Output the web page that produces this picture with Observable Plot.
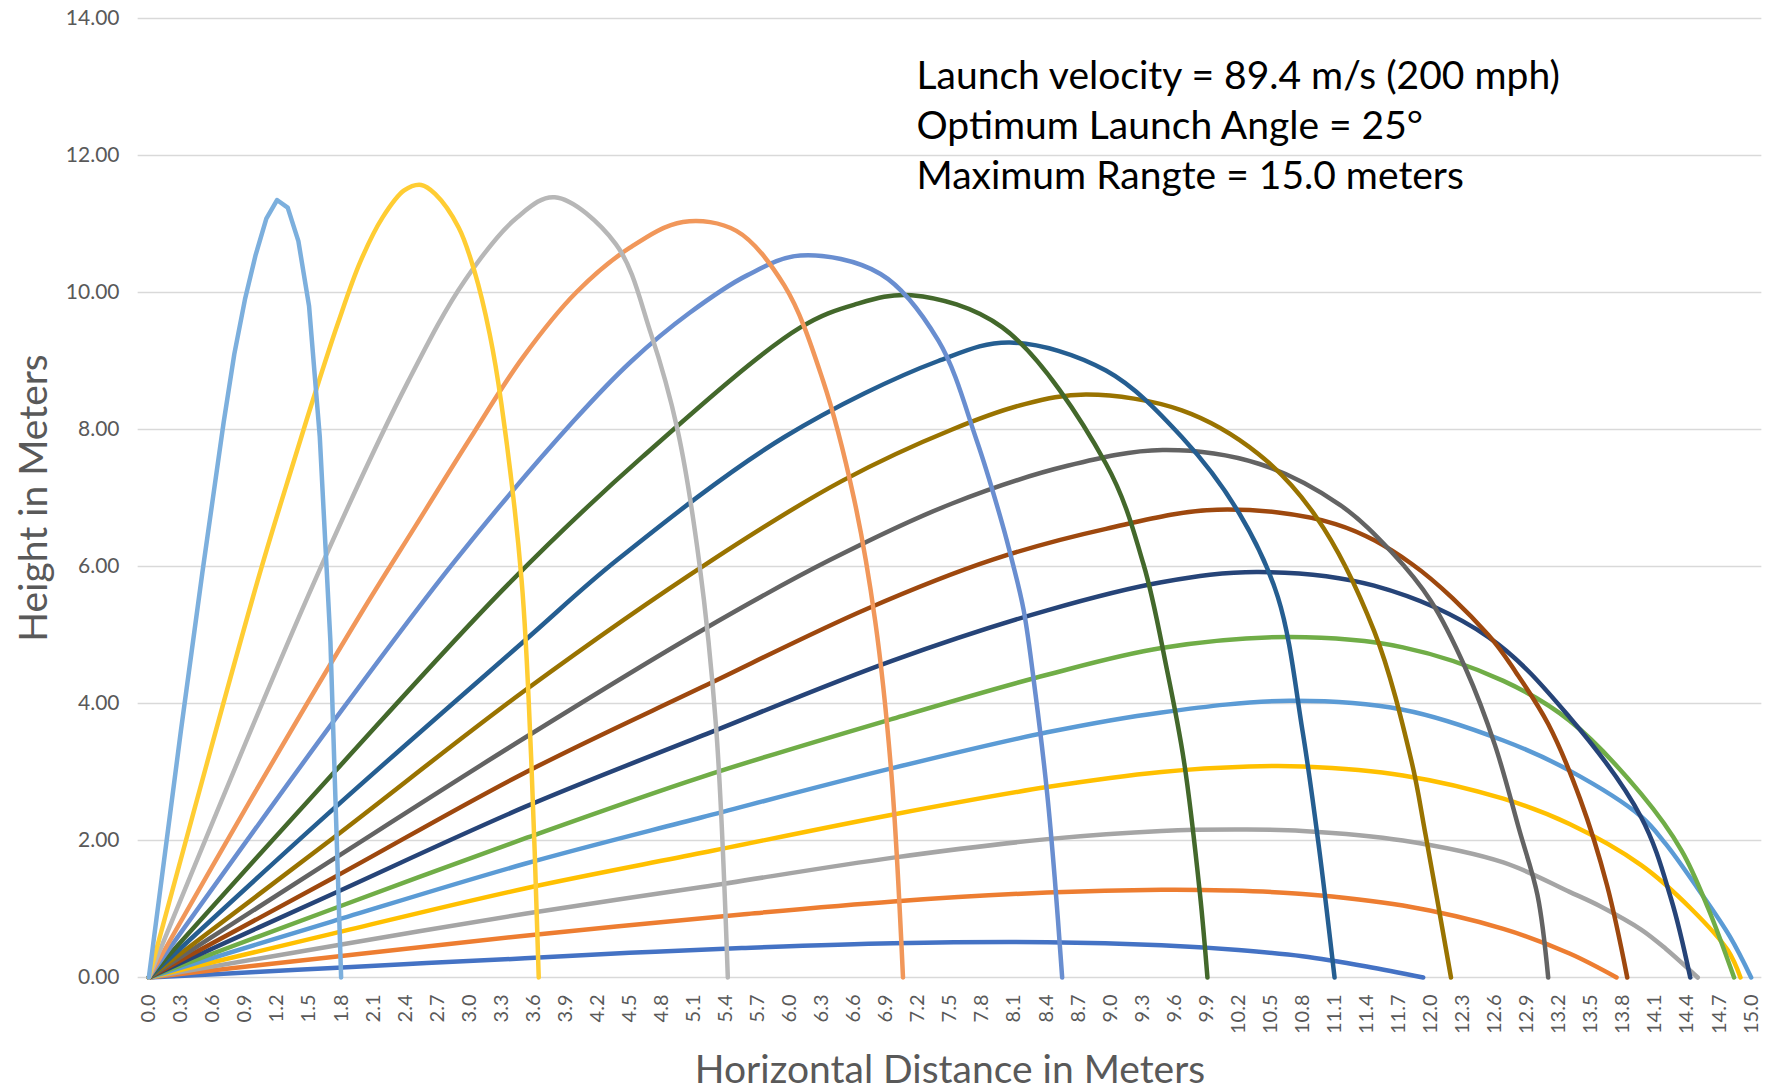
<!DOCTYPE html>
<html>
<head>
<meta charset="utf-8">
<script src="https://cdn.jsdelivr.net/npm/d3@7"></script>
<script src="https://cdn.jsdelivr.net/npm/@observablehq/plot@0.6"></script>
<style>
  html, body { margin: 0; padding: 0; background: #ffffff; }
  #chart svg { display: block; }
</style>
</head>
<body>
<div id="chart"></div>
<script>
// ---- Data ----
const angles = [5, 10, 15, 20, 25, 30, 35, 40, 45, 50, 55, 60, 65, 70, 75, 80, 85];
const palette = ["#4472C4", "#ED7D31", "#A5A5A5", "#FFC000", "#5B9BD5", "#70AD47", "#264478", "#9E480E",
                 "#636363", "#997300", "#255E91", "#43682B", "#698ED0", "#F1975A", "#B7B7B7", "#FFCD33", "#7CAFDD"];

// [horizontal distance (m), height (m)]
const deg05 = [[0,0],[1.0,0.08],[1.72,0.14],[2.6,0.21],[3.52,0.28],[4.5,0.36],[5.55,0.43],[6.97,0.5],[8.41,0.515],[9.48,0.47],[10.2,0.4],[10.8,0.31],[11.4,0.16],[11.93,0]];
const deg10 = [[0,0],[1.72,0.3],[3.52,0.61],[5.55,0.92],[6.97,1.11],[8.41,1.24],[9.48,1.28],[10.1,1.27],[10.8,1.22],[11.74,1.05],[12.68,0.71],[13.3,0.35],[13.74,0]];
const deg15 = [[0,0],[1.72,0.46],[3.52,0.93],[5.18,1.32],[6.97,1.75],[8.41,2.02],[9.48,2.14],[10.25,2.16],[10.8,2.14],[11.74,2.0],[12.68,1.68],[13.3,1.25],[13.6,1.03],[13.97,0.7],[14.2,0.42],[14.5,0]];
const deg20 = [[0,0],[1.72,0.64],[3.52,1.3],[5.18,1.82],[6.97,2.38],[8.41,2.78],[9.48,3.0],[10.3,3.08],[10.8,3.08],[11.74,2.95],[12.68,2.61],[13.3,2.24],[13.97,1.64],[14.44,1.0],[14.78,0.4],[14.9,0]];
const deg25 = [[0,0],[1.72,0.82],[3.52,1.66],[5.18,2.34],[6.97,3.06],[8.41,3.58],[9.48,3.87],[10.68,4.04],[11.74,3.91],[12.68,3.46],[13.3,3.02],[13.97,2.35],[14.2,1.95],[14.5,1.3],[14.8,0.6],[15.0,0]];
const deg30 = [[0,0],[1.72,1.0],[3.52,2.03],[5.18,2.93],[6.97,3.78],[8.41,4.42],[9.48,4.81],[10.68,4.97],[11.74,4.82],[12.68,4.33],[13.3,3.75],[13.97,2.68],[14.35,1.85],[14.6,1.0],[14.84,0]];
const deg35 = [[0,0],[1.72,1.22],[3.52,2.49],[5.18,3.53],[6.97,4.63],[8.41,5.36],[9.48,5.77],[10.39,5.92],[11.47,5.72],[12.54,4.97],[13.3,3.8],[13.97,2.34],[14.25,1.15],[14.43,0]];
const deg40 = [[0,0],[1.72,1.45],[3.52,2.99],[5.18,4.24],[6.72,5.38],[7.9,6.1],[8.96,6.55],[10.0,6.83],[11.11,6.62],[11.82,6.04],[12.54,5.0],[12.8,4.45],[13.1,3.7],[13.4,2.6],[13.65,1.35],[13.84,0]];
const deg45 = [[0,0],[1.72,1.72],[3.52,3.5],[5.18,5.07],[6.37,6.09],[7.52,6.92],[8.6,7.47],[9.49,7.7],[10.39,7.5],[11.15,6.9],[11.64,6.2],[12.0,5.5],[12.33,4.5],[12.6,3.4],[12.83,2.15],[13.0,1.2],[13.1,0]];
const deg50 = [[0,0],[1.72,2.03],[3.52,4.19],[5.27,6.09],[6.49,7.25],[7.52,8.0],[8.2,8.37],[8.78,8.51],[9.67,8.28],[10.39,7.64],[10.93,6.72],[11.47,5.06],[11.82,3.16],[11.95,2.1],[12.19,0]];
const deg55 = [[0,0],[1.72,2.45],[3.52,4.92],[4.38,6.09],[5.95,7.89],[7.39,9.0],[8.06,9.27],[8.96,8.86],[9.67,7.89],[10.21,6.77],[10.57,5.55],[10.8,3.6],[10.95,1.95],[11.1,0]];
const deg60 = [[0,0],[1.72,2.97],[3.37,5.75],[4.62,7.6],[6.1,9.49],[6.6,9.82],[7.14,9.96],[7.99,9.49],[8.96,7.5],[9.31,6.04],[9.53,4.5],[9.69,3.16],[9.84,1.22],[9.91,0]];
const deg65 = [[0,0],[1.72,3.72],[2.87,6.09],[3.98,8.13],[4.52,9.0],[5.06,9.7],[5.6,10.25],[6.1,10.54],[6.85,10.27],[7.39,9.3],[7.75,7.84],[7.99,6.62],[8.08,6.09],[8.19,5.36],[8.3,4.14],[8.41,2.68],[8.48,1.46],[8.55,0]];
const deg70 = [[0,0],[1.0,2.72],[2.0,5.35],[2.5,6.6],[3.0,7.85],[3.5,9.05],[4.0,10.0],[4.5,10.65],[5.0,11.03],[5.5,10.9],[5.95,10.1],[6.31,8.72],[6.6,7.0],[6.8,5.2],[6.95,3.0],[7.06,0]];
const deg75 = [[0,0],[1.55,5.78],[2.43,8.71],[2.96,10.18],[3.45,11.1],[3.8,11.39],[4.37,10.71],[4.7,9.4],[4.95,7.99],[5.15,6.09],[5.31,3.66],[5.42,0]];
const deg80 = [[0,0],[1.02,5.8],[1.35,7.5],[1.55,8.5],[1.77,9.55],[1.98,10.45],[2.19,11.1],[2.39,11.49],[2.55,11.57],[2.68,11.44],[2.9,10.95],[3.05,10.3],[3.19,9.4],[3.3,8.38],[3.49,5.79],[3.58,3.17],[3.65,0]];
const deg85 = [[0,0],[0.1,1.2],[0.2,2.4],[0.3,3.6],[0.4,4.75],[0.5,5.9],[0.6,7.0],[0.7,8.1],[0.8,9.1],[0.9,9.9],[1.0,10.55],[1.1,11.08],[1.2,11.35],[1.3,11.24],[1.4,10.75],[1.5,9.8],[1.6,7.9],[1.7,4.9],[1.8,0]];

const xTickValues = [0.0,0.3,0.6,0.9,1.2,1.5,1.8,2.1,2.4,2.7,3.0,3.3,3.6,3.9,4.2,4.5,4.8,5.1,5.4,5.7,6.0,6.3,6.6,6.9,7.2,7.5,7.8,8.1,8.4,8.7,9.0,9.3,9.6,9.9,10.2,10.5,10.8,11.1,11.4,11.7,12.0,12.3,12.6,12.9,13.2,13.5,13.8,14.1,14.4,14.7,15.0];
const yTickValues = [0, 2, 4, 6, 8, 10, 12, 14];

const xTitle = "Horizontal Distance in Meters";
const yTitle = "Height in Meters";
const noteLines = ["Launch velocity = 89.4 m/s (200 mph)", "Optimum Launch Angle = 25°", "Maximum Rangte = 15.0 meters"];

// ---- Build table ----
const trajectories = [deg05, deg10, deg15, deg20, deg25, deg30, deg35, deg40, deg45, deg50, deg55, deg60, deg65, deg70, deg75, deg80, deg85];
const rows = trajectories.flatMap((pts, i) => pts.map(([x, h]) => ({angle: angles[i], x, h})));
const smoothRows = rows.filter(d => d.angle !== 85);
const steepRows = rows.filter(d => d.angle === 85);

const textColor = "#595959";

const chart = Plot.plot({
  width: 1765,
  height: 1091,
  marginLeft: 143,
  marginRight: 9,
  marginTop: 18,
  marginBottom: 114,
  style: {fontFamily: "Lato, 'Open Sans', sans-serif", fontSize: "20px", color: textColor, background: "#ffffff", overflow: "visible"},
  x: {domain: [-0.05, 15.05]},
  y: {domain: [0, 14]},
  color: {type: "ordinal", domain: angles, range: palette},
  marks: [
    Plot.gridY(yTickValues, {stroke: "#d9d9d9", strokeOpacity: 1, strokeWidth: 1.5, x1: -0.1, x2: 15.1}),
    Plot.axisY(yTickValues, {tickSize: 0, tickPadding: 24, tickFormat: d3.format(".2f"), fontSize: 21, fill: textColor, label: null}),
    Plot.axisX(xTickValues, {tickSize: 0, tickPadding: 17, tickRotate: -90, tickFormat: d3.format(".1f"), fontSize: 20, fill: textColor, label: null}),
    Plot.line(smoothRows, {x: "x", y: "h", z: "angle", stroke: "angle", strokeWidth: 4.5, curve: "catmull-rom", strokeLinejoin: "round"}),
    Plot.line(steepRows, {x: "x", y: "h", z: "angle", stroke: "angle", strokeWidth: 4.5, curve: "linear", strokeLinejoin: "round"}),
    Plot.text([noteLines.join("\n")], {text: d => d, frameAnchor: "top-left", dx: 773, dy: 35, textAnchor: "start", lineAnchor: "top", lineHeight: 1.282, fontSize: 39, fill: "#000000"}),
    Plot.text([yTitle], {text: d => d, frameAnchor: "left", rotate: -90, dx: -109, textAnchor: "middle", lineAnchor: "middle", fontSize: 39, fill: textColor}),
    Plot.text([xTitle], {text: d => d, frameAnchor: "bottom", dy: 93, textAnchor: "middle", lineAnchor: "middle", fontSize: 39, fill: textColor})
  ]
});

document.getElementById("chart").appendChild(chart);
</script>
</body>
</html>
